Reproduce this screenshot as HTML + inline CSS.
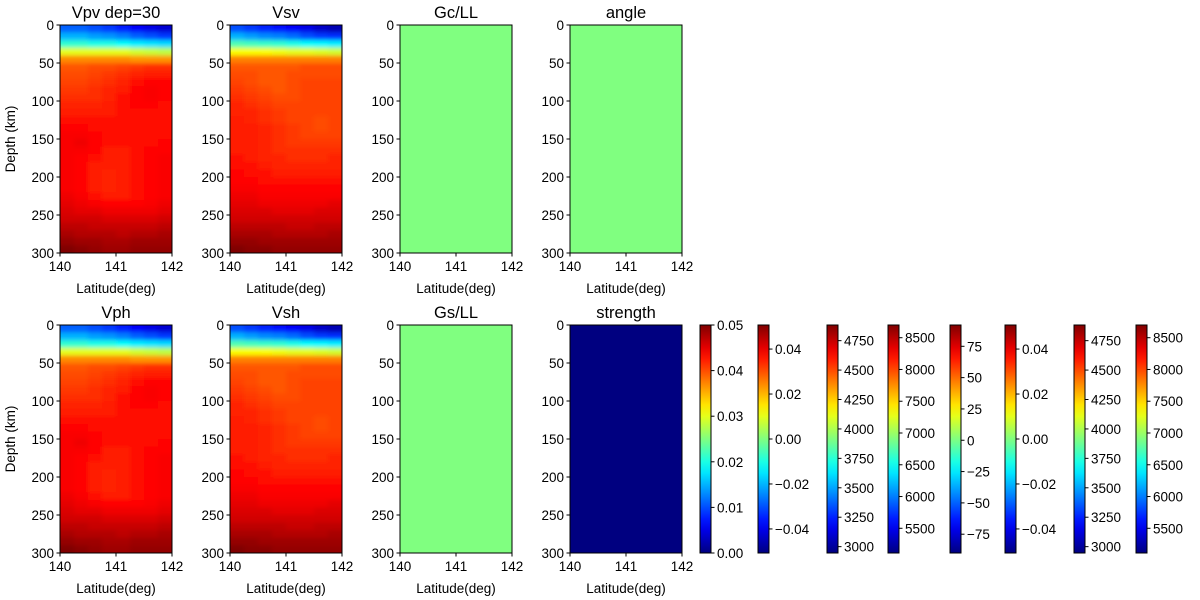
<!DOCTYPE html>
<html><head><meta charset="utf-8">
<style>
html,body{margin:0;padding:0;background:#fff;}
svg{display:block;font-family:"Liberation Sans","DejaVu Sans",sans-serif;}
</style></head>
<body>
<svg id="fig" width="1200" height="600" viewBox="0 0 1200 600"></svg>
<script>
// ---- data ----
const latTicks = [140, 141, 142];
const depthTicks = [0, 50, 100, 150, 200, 250, 300];
const depthStep = 10; // km per grid row
// normalized (0..1 of colour range) P-velocity grid, 30 depth rows x 8 latitude columns
const vpGrid = [
[.22,.22,.2,.18,.15,.12,.1,.08],
[.3,.3,.28,.27,.25,.22,.2,.18],
[.42,.42,.4,.4,.38,.36,.35,.34],
[.6,.6,.6,.6,.6,.58,.57,.56],
[.74,.74,.74,.74,.74,.73,.73,.73],
[.79,.79,.8,.8,.81,.82,.83,.83],
[.8,.8,.81,.82,.83,.84,.85,.85],
[.81,.81,.82,.83,.84,.86,.87,.87],
[.82,.82,.83,.84,.85,.87,.88,.87],
[.83,.83,.83,.84,.86,.87,.88,.87],
[.84,.84,.84,.85,.86,.87,.87,.86],
[.85,.85,.85,.85,.86,.86,.86,.86],
[.86,.86,.86,.86,.86,.86,.86,.86],
[.87,.87,.86,.86,.86,.86,.86,.86],
[.88,.88,.87,.86,.86,.86,.86,.86],
[.88,.89,.87,.86,.86,.86,.86,.87],
[.88,.88,.87,.85,.85,.86,.87,.87],
[.88,.87,.86,.85,.85,.86,.87,.88],
[.88,.87,.85,.85,.85,.86,.87,.88],
[.88,.87,.85,.84,.85,.86,.87,.88],
[.88,.87,.85,.84,.85,.86,.87,.88],
[.88,.87,.85,.84,.85,.86,.87,.88],
[.89,.88,.86,.85,.85,.86,.87,.88],
[.9,.89,.88,.87,.87,.87,.88,.89],
[.91,.9,.9,.89,.89,.89,.89,.9],
[.92,.92,.92,.91,.91,.91,.91,.92],
[.94,.94,.93,.93,.93,.93,.93,.94],
[.96,.95,.95,.95,.94,.95,.95,.96],
[.98,.97,.97,.96,.96,.97,.97,.97],
[1,.99,.98,.97,.97,.98,.98,.98]];
const vsGrid = [
[.2,.18,.16,.14,.12,.1,.07,.05],
[.3,.28,.26,.25,.23,.2,.18,.17],
[.45,.44,.43,.42,.4,.38,.37,.36],
[.62,.62,.62,.61,.6,.6,.59,.58],
[.75,.75,.75,.75,.75,.75,.75,.75],
[.79,.79,.79,.79,.79,.8,.8,.8],
[.8,.8,.79,.79,.8,.8,.8,.8],
[.81,.8,.79,.79,.8,.81,.81,.81],
[.82,.81,.8,.79,.8,.81,.81,.81],
[.83,.82,.81,.8,.8,.81,.81,.81],
[.84,.83,.82,.81,.81,.81,.81,.81],
[.84,.84,.83,.82,.81,.81,.81,.81],
[.85,.84,.83,.82,.81,.81,.8,.81],
[.85,.85,.84,.83,.82,.81,.8,.81],
[.85,.85,.84,.83,.82,.81,.81,.81],
[.85,.85,.84,.83,.82,.82,.82,.82],
[.85,.85,.84,.83,.83,.83,.83,.83],
[.86,.85,.84,.84,.83,.83,.83,.84],
[.86,.86,.85,.84,.84,.84,.84,.84],
[.87,.86,.86,.85,.85,.85,.85,.85],
[.87,.87,.86,.86,.86,.86,.86,.86],
[.88,.88,.87,.87,.87,.87,.87,.87],
[.89,.89,.88,.88,.88,.88,.88,.88],
[.9,.9,.89,.89,.89,.89,.89,.9],
[.91,.91,.91,.9,.9,.9,.91,.91],
[.92,.92,.92,.92,.92,.92,.92,.92],
[.94,.94,.94,.94,.93,.93,.94,.94],
[.96,.96,.96,.95,.95,.95,.95,.96],
[.98,.98,.97,.97,.97,.97,.97,.97],
[1,.99,.99,.98,.98,.98,.98,.98]];
const uniformHalf = [[0.5]];
const uniformZero = [[0]];
const panelTitles = ["Vpv dep=30","Vsv","Gc/LL","angle","Vph","Vsh","Gs/LL","strength"];
const cbMins = [0, -0.0507, 2946, 5111, -90, -0.0507, 2946, 5111];
const cbMaxs = [0.05, 0.0507, 4883, 8700, 92, 0.0507, 4883, 8700];
const cbTicks = [
 [0,0.01,0.02,0.03,0.04,0.05],
 [-0.04,-0.02,0,0.02,0.04],
 [3000,3250,3500,3750,4000,4250,4500,4750],
 [5500,6000,6500,7000,7500,8000,8500],
 [-75,-50,-25,0,25,50,75],
 [-0.04,-0.02,0,0.02,0.04],
 [3000,3250,3500,3750,4000,4250,4500,4750],
 [5500,6000,6500,7000,7500,8000,8500]];
const cbTickLabels = [
 ["0.00","0.01","0.02","0.03","0.04","0.05"],
 ["\u22120.04","\u22120.02","0.00","0.02","0.04"],
 ["3000","3250","3500","3750","4000","4250","4500","4750"],
 ["5500","6000","6500","7000","7500","8000","8500"],
 ["\u221275","\u221250","\u221225","0","25","50","75"],
 ["\u22120.04","\u22120.02","0.00","0.02","0.04"],
 ["3000","3250","3500","3750","4000","4250","4500","4750"],
 ["5500","6000","6500","7000","7500","8000","8500"]];

// ---- layout ----
const NS="http://www.w3.org/2000/svg";
const svg=document.getElementById('fig');
function mk(tag,attrs,parent){const e=document.createElementNS(NS,tag);for(const k in attrs)e.setAttribute(k,attrs[k]);(parent||svg).appendChild(e);return e;}
function jet(t){t=Math.max(0,Math.min(1,t));
 const c=v=>Math.round(255*Math.max(0,Math.min(1,v)));
 return `rgb(${c(1.5-Math.abs(4*t-3))},${c(1.5-Math.abs(4*t-2))},${c(1.5-Math.abs(4*t-1))})`;}
const PW=112,PH=228;
const panelX=[60,230,400,570];
const rowY=[25,325];
const grids=[vpGrid,vsGrid,uniformHalf,uniformHalf,vpGrid,vsGrid,uniformHalf,uniformZero];
const defs=mk('defs',{});
const blur=mk('filter',{id:'sm',x:'-10%',y:'-10%',width:'120%',height:'120%'},defs);
mk('feGaussianBlur',{stdDeviation:'2.2',edgeMode:'duplicate'},blur);

for(let p=0;p<8;p++){
 const x0=panelX[p%4], y0=rowY[Math.floor(p/4)];
 const xs=v=>x0+(v-140)/2*PW;
 const ys=d=>y0+d/300*PH;
 const g=mk('g',{});
 
 
 const cp=mk('clipPath',{id:'cp'+p},defs);
 mk('rect',{x:x0,y:y0,width:PW,height:PH},cp);
 const clipG=mk('g',{'clip-path':`url(#cp${p})`},g);
 const grid=grids[p], nr=grid.length, nc=grid[0].length;
 const cellsG=mk('g',nr>1?{filter:'url(#sm)'}:{},clipG);
 for(let r=0;r<nr;r++)for(let c=0;c<nc;c++){
  const d0 = nr===1?0:r*depthStep, d1 = nr===1?300:(r+1)*depthStep;
  const l0=140+2*c/nc, l1=140+2*(c+1)/nc;
  let X0=xs(l0),X1=xs(l1),Y0=ys(d0),Y1=ys(d1);
  if(nr>1){ if(c===0)X0-=6; if(c===nc-1)X1+=6; if(r===0)Y0-=6; if(r===nr-1)Y1+=6; }
  const rc=mk('rect',{x:X0,y:Y0,width:X1-X0+0.6,height:Y1-Y0+0.6,fill:jet(grid[r][c])},cellsG);
  
  
 }
 mk('rect',{x:x0,y:y0,width:PW,height:PH,fill:'none',stroke:'#000','stroke-width':1},g);
 latTicks.forEach(v=>{
  mk('line',{x1:xs(v),x2:xs(v),y1:y0+PH,y2:y0+PH+3.5,stroke:'#000'},g);
  const t=mk('text',{x:xs(v),y:y0+PH+18,'text-anchor':'middle','font-size':13.5},g);t.textContent=v;
 });
 depthTicks.forEach(v=>{
  mk('line',{x1:x0-3.5,x2:x0,y1:ys(v),y2:ys(v),stroke:'#000'},g);
  const t=mk('text',{x:x0-6,y:ys(v)+5,'text-anchor':'end','font-size':13.5},g);t.textContent=v;
 });
 const tt=mk('text',{x:x0+PW/2,y:y0-7,'text-anchor':'middle','font-size':16.5},g);tt.textContent=panelTitles[p];
 
 
 const xl=mk('text',{x:x0+PW/2,y:y0+PH+40,'text-anchor':'middle','font-size':13.5},g);xl.textContent='Latitude(deg)';
 
 
 if(p%4===0){
  const yl=mk('text',{x:0,y:0,'text-anchor':'middle','font-size':13.5,transform:`translate(15,${y0+PH/2}) rotate(-90)`},g);yl.textContent='Depth (km)';
  
  
 }
}

// colorbars
const lg=mk('linearGradient',{id:'jetg',x1:0,y1:1,x2:0,y2:0},defs);
for(let i=0;i<=20;i++)mk('stop',{offset:i/20,'stop-color':jet(i/20)},lg);
const cbX=[700,758,827,888,950,1005,1074,1136];
const CBY=325,CBH=228,CBW=11;
for(let k=0;k<8;k++){
 const g=mk('g',{});
 
 
 mk('rect',{x:cbX[k],y:CBY,width:CBW,height:CBH,fill:'url(#jetg)',stroke:'#000','stroke-width':1},g);
 const ys=v=>CBY+CBH-(v-cbMins[k])/(cbMaxs[k]-cbMins[k])*CBH;
 cbTicks[k].forEach((v,i)=>{
  const y=ys(v);
  mk('line',{x1:cbX[k]+CBW,x2:cbX[k]+CBW+3.5,y1:y,y2:y,stroke:'#000'},g);
  const t=mk('text',{x:cbX[k]+CBW+6,y:y+5,'font-size':13.5},g);t.textContent=cbTickLabels[k][i];
 });
}
</script>
</body></html>
